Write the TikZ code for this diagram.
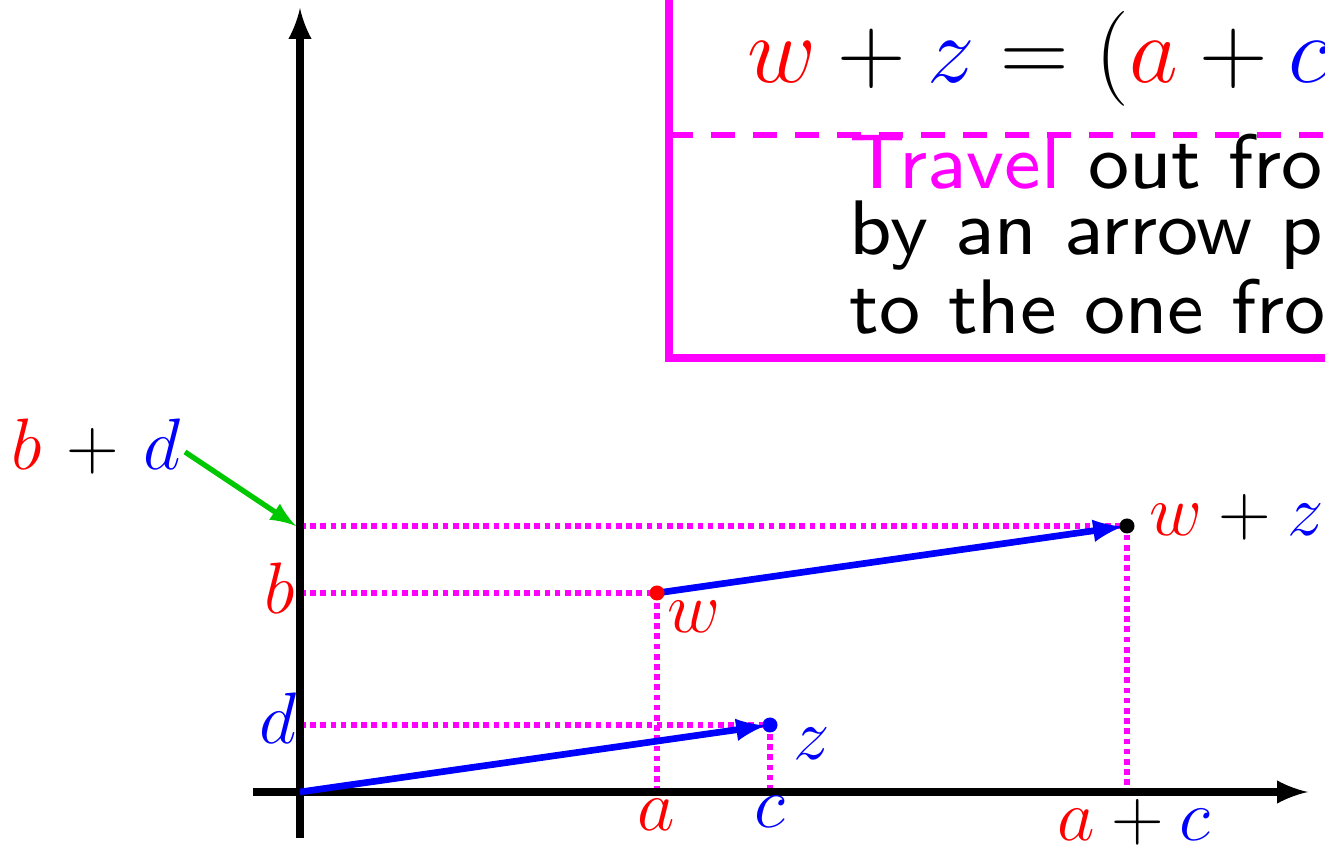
\documentclass[tikz,border=0pt]{standalone}
\usepackage{amsmath}
\usepackage{color}
\usepackage{tikz}
\usetikzlibrary{arrows}

\definecolor{mag}{RGB}{255,0,255}
\definecolor{grn}{RGB}{0,200,0}
\newcommand{\rd}[1]{\textcolor{red}{#1}}
\newcommand{\bl}[1]{\textcolor{blue}{#1}}

\tikzset{
  axis/.style={line width=2pt,-latex},
  guide/.style={mag,line width=1.6pt,dash pattern=on 1.6pt off 1.3pt},
  vec/.style={blue,line width=1.9pt,-latex,shorten >=0.04cm},
  lab/.style={font=\fontsize{20.74}{25}\selectfont,inner sep=0pt},
  boxline/.style={mag,line width=2.1pt}
}

\begin{document}
\begin{tikzpicture}
\useasboundingbox (-3,-0.54) rectangle (10.25,7.92);
\clip (-3,-0.54) rectangle (10.25,7.92);

\coordinate (O) at (0,0);
\coordinate (W) at (3.57,1.99);
\coordinate (Z) at (4.70,0.67);
\coordinate (S) at (8.27,2.66);
\coordinate (xl) at (-0.47,0);
\coordinate (xr) at (10.08,0);
\coordinate (yb) at (0,-0.46);
\coordinate (yt) at (0,7.84);

% dotted guides
\draw[guide] (O |- W) -- (W) -- (W |- O);
\draw[guide] (O |- Z) -- (Z) -- (Z |- O);
\draw[guide] (O |- S) -- (S) -- (S |- O);

% axes
\draw[axis] (xl) -- (xr);
\draw[axis] (yb) -- (yt);

% arrows
\draw[vec] (O) -- (Z);
\draw[vec] (W) -- (S);
\fill[red] (W) circle (0.075);
\fill[blue] (Z) circle (0.075);
\fill (S) circle (0.075);

% labels
\node[lab] (wl) at (3.94,1.75) {$\rd{w}$};
\node[lab] (zl) at (5.12,0.48) {$\bl{z}$};
\node[lab,anchor=west] (sl) at (8.49,2.75) {$\rd{w}+\bl{z}$};
\node[lab] (al) at (3.56,-0.23) {$\rd{a}$};
\node[lab] (cl) at (4.70,-0.20) {$\bl{c}$};
\node[lab] (acl) at (8.34,-0.30) {$\rd{a}+\bl{c}$};
\node[lab] (bl) at (-0.20,2.04) {$\rd{b}$};
\node[lab] (dl) at (-0.22,0.74) {$\bl{d}$};
\node[lab] (bdl) at (-2.04,3.45) {$\rd{b}\mskip2mu+\mskip2mu\bl{d}$};

\coordinate (gs) at (-1.15,3.40);
\coordinate (ge) at (-0.04,2.66);
\draw[grn,line width=1.5pt,-latex] (gs) -- (ge);

% the box
\draw[boxline] (3.69,8.3) |- (11,4.34);
\draw[mag,line width=1.6pt,dash pattern=on 0.24cm off 0.18cm] (3.69,6.57) -- (11,6.57);
\node[anchor=base west,inner sep=0pt,scale=1.085,transform shape,
  font=\fontsize{24.88}{30}\selectfont] (eqn) at (4.47,7.09)
  {$\rd{w}+\bl{z}=(\rd{a}+\bl{c})$};
\node[anchor=base west,inner sep=0pt,align=left,scale=2.75,transform shape,
  font=\fontsize{8}{6.83}\selectfont\sffamily] (travel) at (5.48,4.58)
  {\textcolor{mag}{Travel} out from\\by an arrow parallel\\to the one from};
\end{tikzpicture}
\end{document}
